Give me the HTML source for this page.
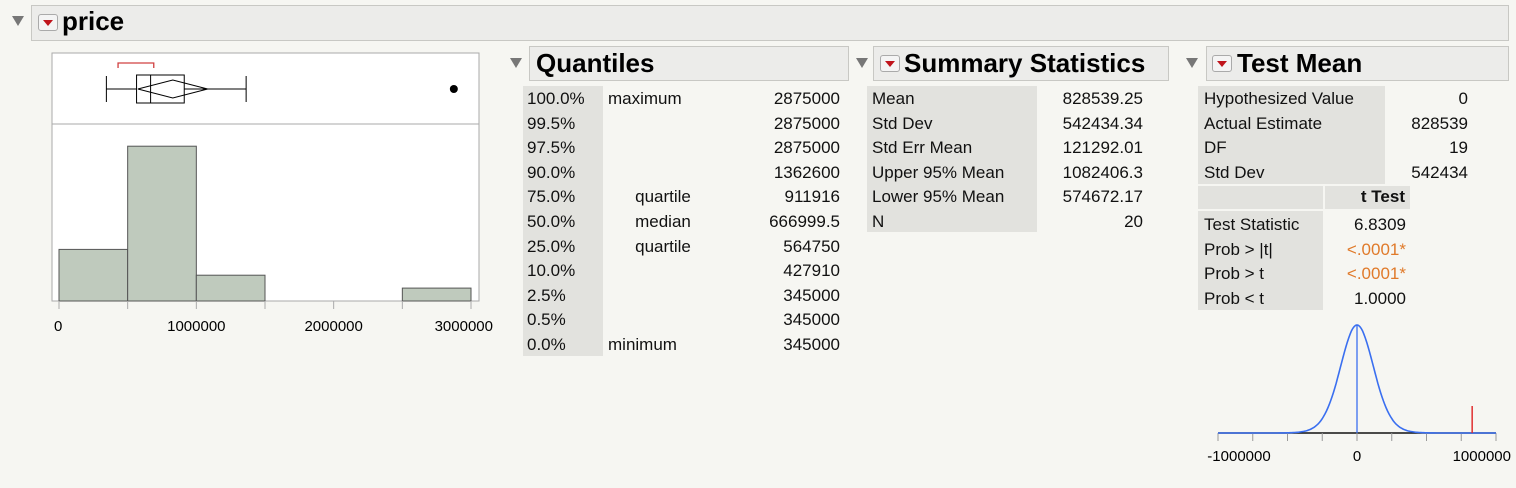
<!DOCTYPE html>
<html><head><meta charset="utf-8">
<style>
body{margin:0;width:1516px;height:488px;background:#f6f6f2;font-family:"Liberation Sans",sans-serif;position:relative;overflow:hidden}
.a{position:absolute;white-space:nowrap}
.hdr{position:absolute;background:#ececea;border:1px solid #c8c8c4;box-sizing:border-box}
.ttl{position:absolute;font-weight:bold;font-size:26px;color:#000}
.tri{position:absolute;width:0;height:0;border-left:6px solid transparent;border-right:6px solid transparent;border-top:10px solid #777}
.rb{position:absolute;width:20px;height:17px;border:1px solid #aaa;border-radius:3px;background:#f4f4f4;box-sizing:border-box}
.rb:after{content:"";position:absolute;left:4px;top:5px;border-left:5px solid transparent;border-right:5px solid transparent;border-top:6px solid #c0141c}
.bg{position:absolute;background:#e2e2de}
.t{position:absolute;font-size:17px;color:#111;white-space:nowrap;line-height:20px}
.r{text-align:right}
.o{color:#e07a2a}
</style></head><body>
<div class="tri" style="left:12px;top:16px"></div>
<div class="hdr" style="left:31px;top:5px;width:1478px;height:36px"></div>
<div class="rb" style="left:38px;top:14px"></div>
<div class="ttl" style="left:62px;top:6px">price</div>

<svg class="a" style="left:0;top:0" width="520" height="340">
<g id="hist"></g>
</svg>

<div class="tri" style="left:510px;top:58px"></div>
<div class="hdr" style="left:529px;top:46px;width:320px;height:35px"></div>
<div class="ttl" style="left:536px;top:48px">Quantiles</div>
<div class="bg" style="left:523px;top:86px;width:80px;height:270px"></div>
<div id="q"></div>

<div class="tri" style="left:856px;top:58px"></div>
<div class="hdr" style="left:873px;top:46px;width:296px;height:35px"></div>
<div class="rb" style="left:880px;top:55px"></div>
<div class="ttl" style="left:904px;top:48px">Summary Statistics</div>
<div class="bg" style="left:867px;top:86px;width:170px;height:146px"></div>
<div id="s"></div>

<div class="tri" style="left:1186px;top:58px"></div>
<div class="hdr" style="left:1206px;top:46px;width:303px;height:35px"></div>
<div class="rb" style="left:1212px;top:55px"></div>
<div class="ttl" style="left:1237px;top:48px">Test Mean</div>
<div class="bg" style="left:1198px;top:86px;width:187px;height:98px"></div>
<div class="bg" style="left:1198px;top:186px;width:125px;height:23px"></div>
<div class="bg" style="left:1325px;top:186px;width:85px;height:23px"></div>
<div class="t" style="left:1325px;top:187px;width:80px;text-align:right;font-weight:bold">t Test</div>
<div class="bg" style="left:1198px;top:211px;width:125px;height:99px"></div>
<div id="tm"></div>

<svg class="a" style="left:1180px;top:300px" width="336" height="188">
<g id="tdist"></g>
</svg>

<script>
const NS="http://www.w3.org/2000/svg";
function mk(tag,attrs,parent){const e=document.createElementNS(NS,tag);for(const k in attrs)e.setAttribute(k,attrs[k]);parent.appendChild(e);return e;}
function txt(parent,cls,x,y,w,s,align){const d=document.createElement('div');d.className='t '+cls;d.style.left=x+'px';d.style.top=y+'px';if(w){d.style.width=w+'px';}if(align)d.style.textAlign=align;d.textContent=s;parent.appendChild(d);return d;}

// ---- Histogram data
const binStarts=[0,500000,1000000,2500000];
const binWidth=500000;
const binCounts=[4,12,2,1];
const xTicks=[0,1000000,2000000,3000000];
const boxStats={min:345000,q1:564750,med:666999.5,q3:911916,whiskerHi:1362600,mean:828539.25,lo95:574672.17,hi95:1082406.3,outlier:2875000,shortLo:430000,shortHi:690000};

const g=document.getElementById('hist');
const X=v=>59+v*(471-59)/3000000;
const Y=c=>301-c*12.9;
mk('rect',{x:52,y:53,width:427,height:248,fill:'#fff',stroke:'#aaa','stroke-width':1},g);
mk('line',{x1:52,y1:124,x2:479,y2:124,stroke:'#aaa'},g);
binStarts.forEach((b,i)=>{const r=mk('rect',{x:X(b),y:Y(binCounts[i]),width:X(b+binWidth)-X(b),height:301-Y(binCounts[i]),fill:'#bfcabd',stroke:'#555','stroke-width':1},g);

});
for(let v=0;v<=3000000;v+=500000){mk('line',{x1:X(v),y1:301,x2:X(v),y2:309,stroke:'#aaa'},g);}
xTicks.forEach((v,i)=>{const last=i==xTicks.length-1;const t=mk('text',{x:v==0?X(v)-5:(last?493:X(v)),y:331,'font-size':15,'text-anchor':v==0?'start':(last?'end':'middle'),'font-family':'Liberation Sans'},g);t.textContent=v;

});
// box plot
const cy=89;
mk('line',{x1:X(boxStats.min),y1:cy,x2:X(boxStats.whiskerHi),y2:cy,stroke:'#000'},g);
mk('line',{x1:X(boxStats.min),y1:cy-13,x2:X(boxStats.min),y2:cy+13,stroke:'#000'},g);
mk('line',{x1:X(boxStats.whiskerHi),y1:cy-13,x2:X(boxStats.whiskerHi),y2:cy+13,stroke:'#000'},g);
const box=mk('rect',{x:X(boxStats.q1),y:cy-14,width:X(boxStats.q3)-X(boxStats.q1),height:28,fill:'#fff',stroke:'#000'},g);


mk('line',{x1:X(boxStats.med),y1:cy-14,x2:X(boxStats.med),y2:cy+14,stroke:'#000'},g);
mk('polygon',{points:`${X(boxStats.lo95)},${cy} ${X(boxStats.mean)},${cy-9} ${X(boxStats.hi95)},${cy} ${X(boxStats.mean)},${cy+9}`,fill:'none',stroke:'#000'},g);
const od=mk('circle',{cx:X(boxStats.outlier),cy:cy,r:4,fill:'#000'},g);


mk('path',{d:`M${X(boxStats.shortLo)},68 V63 H${X(boxStats.shortHi)} V68`,fill:'none',stroke:'#d04040','stroke-width':1.3},g);

// ---- Tables
const qPct=["100.0%","99.5%","97.5%","90.0%","75.0%","50.0%","25.0%","10.0%","2.5%","0.5%","0.0%"];
const qLbl=["maximum","","","","quartile","median","quartile","","","","minimum"];
const qVal=["2875000","2875000","2875000","1362600","911916","666999.5","564750","427910","345000","345000","345000"];
const q=document.getElementById('q');
qPct.forEach((p,i)=>{const y=89+i*24.6;
txt(q,'',527,y,0,p);
const l=txt(q,'',608,y,110,qLbl[i],qLbl[i]=='maximum'||qLbl[i]=='minimum'?'left':'center');
const v=txt(q,'r',720,y,120,qVal[i]);

});

const sLbl=["Mean","Std Dev","Std Err Mean","Upper 95% Mean","Lower 95% Mean","N"];
const sVal=["828539.25","542434.34","121292.01","1082406.3","574672.17","20"];
const s=document.getElementById('s');
sLbl.forEach((l,i)=>{const y=89+i*24.6;txt(s,'',872,y,0,l);
const v=txt(s,'r',1020,y,123,sVal[i]);

});

const tLbl=["Hypothesized Value","Actual Estimate","DF","Std Dev"];
const tVal=["0","828539","19","542434"];
const tm=document.getElementById('tm');
tLbl.forEach((l,i)=>{const y=89+i*24.6;txt(tm,'',1204,y,0,l);txt(tm,'r',1370,y,98,tVal[i]);});
const ttLbl=["Test Statistic","Prob > |t|","Prob > t","Prob < t"];
const ttVal=["6.8309","<.0001*","<.0001*","1.0000"];
ttLbl.forEach((l,i)=>{const y=215+i*24.6;txt(tm,'',1204,y,0,l);txt(tm,i==1||i==2?'r o':'r',1300,y,106,ttVal[i]);});

// ---- t distribution
const tAxisTicks=[-1000000,0,1000000];
const stdErr=121292.01;
const actualEstimate=828539;
const td=document.getElementById('tdist');
const TX=v=>177+v*139/1000000;
const base=133, peak=25;
mk('line',{x1:TX(-1000000),y1:base,x2:TX(1000000),y2:base,stroke:'#111','stroke-width':1.5},td);
for(let v=-1000000;v<=1000000;v+=250000){mk('line',{x1:TX(v),y1:base,x2:TX(v),y2:base+8,stroke:'#999'},td);}
tAxisTicks.forEach((v,i)=>{const t=mk('text',{x:i==0?TX(v)+21:(i==2?331:TX(v)),y:161,'font-size':15,'text-anchor':i==2?'end':'middle','font-family':'Liberation Sans'},td);t.textContent=v;

});
let d='';
for(let v=-1000000;v<=1000000;v+=10000){const z=v/stdErr;const yy=base-(base-peak)*Math.pow(1+z*z/19,-10);d+=(d?'L':'M')+TX(v).toFixed(1)+','+yy.toFixed(1);}
const curve=mk('path',{d:d,fill:'none',stroke:'#3a6ff0','stroke-width':1.6},td);


mk('line',{x1:TX(0),y1:peak,x2:TX(0),y2:base,stroke:'#3a6ff0','stroke-width':1.3},td);
const est=mk('line',{x1:TX(actualEstimate),y1:106,x2:TX(actualEstimate),y2:base,stroke:'#e03030','stroke-width':1.5},td);


</script>
</body></html>
